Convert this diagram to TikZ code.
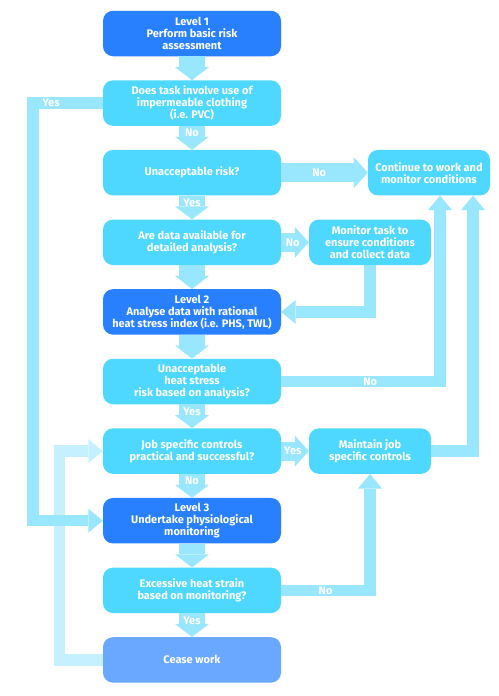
\documentclass[tikz,border=0pt]{standalone}
\usepackage{fontspec}
\setmainfont{Fira Sans}
\usetikzlibrary{arrows.meta,calc}
\definecolor{lvl}{RGB}{41,128,255}
\definecolor{qst}{RGB}{78,216,255}
\definecolor{arr}{RGB}{153,230,255}
\definecolor{ceasec}{RGB}{106,168,255}
\definecolor{loopc}{RGB}{196,240,255}
\begin{document}
\begin{tikzpicture}[x=1pt,y=-1pt,
 box/.style={rounded corners=10pt, minimum width=178pt, minimum height=45.5pt, inner sep=0pt, align=center, text=white, font=\bfseries\fontsize{11}{12}\selectfont},
 lvlbox/.style={box, fill=lvl},
 qbox/.style={box, fill=qst},
 sbox/.style={box, fill=qst, minimum width=122pt},
 cbox/.style={box, fill=ceasec},
 downarr/.style={draw=arr, line width=26pt, -{Triangle[width=34pt,length=13pt,line width=0pt]}},
 sidearr/.style={draw=arr, line width=19pt, -{Triangle[width=31pt,length=14pt,line width=0pt]}},
 thinarr/.style={draw=arr, line width=11.5pt, line join=miter, -{Triangle[width=24pt,length=14.5pt,line width=0pt]}},
 lbl/.style={text=white, font=\bfseries\fontsize{11}{12}\selectfont, inner sep=0pt},
]
\useasboundingbox (0,0) rectangle (498,696);
% main column
\node[lvlbox] (b1) at (192,33.5) {Level 1\\Perform basic risk\\assessment};
\node[qbox] (b2) at (192,103.1) {Does task involve use of\\impermeable clothing\\(i.e. PVC)};
\node[qbox] (b3) at (192,172.7) {Unacceptable risk?};
\node[qbox] (b4) at (192,242.3) {Are data available for\\detailed analysis?};
\node[lvlbox] (b5) at (192,311.9) {Level 2\\Analyse data with rational\\heat stress index (i.e. PHS, TWL)};
\node[qbox] (b6) at (192,381.5) {Unacceptable\\heat stress\\risk based on analysis?};
\node[qbox] (b7) at (192,451.1) {Job specific controls\\practical and successful?};
\node[lvlbox] (b8) at (192,520.7) {Level 3\\Undertake physiological\\monitoring};
\node[qbox] (b9) at (192,590.3) {Excessive heat strain\\based on monitoring?};
\node[cbox] (b10) at (192,659.9) {Cease work};
% side boxes
\node[sbox] (cont) at (429,172.7) {Continue to work and\\monitor conditions};
\node[sbox] (mon) at (370,242.3) {Monitor task to\\ensure conditions\\and collect data};
\node[sbox] (maint) at (370,451.1) {Maintain job\\specific controls};
% loop back (drawn first)
\draw[thinarr, draw=loopc] (b10.west) -- ++(-43.5,0) |- (b7.west);
% down arrows
\draw[downarr] (b1.south) -- (b2.north);
\draw[downarr] (b2.south) -- node[lbl, pos=0.3] (l1) {No} (b3.north);
\draw[downarr] (b3.south) -- node[lbl, pos=0.3] (l2) {Yes} (b4.north);
\draw[downarr] (b4.south) -- (b5.north);
\draw[downarr] (b5.south) -- (b6.north);
\draw[downarr] (b6.south) -- node[lbl, pos=0.3] (l3) {Yes} (b7.north);
\draw[downarr] (b7.south) -- node[lbl, pos=0.3] (l4) {No} (b8.north);
\draw[downarr] (b8.south) -- (b9.north);
\draw[downarr] (b9.south) -- node[lbl, pos=0.3] (l5) {Yes} (b10.north);
% side arrows
\draw[sidearr] (b3.east) -- node[lbl, pos=0.44] (l6) {No} (cont.west);
\draw[sidearr] (b4.east) -- node[lbl, pos=0.42] (l7) {No} (mon.west);
\draw[sidearr] (b7.east) -- node[lbl, pos=0.42] (l8) {Yes} (maint.west);
% thin connectors
\draw[thinarr] (b2.west) -- node[lbl, pos=0.74] (l9) {Yes} ++(-70,0) |- (b8.west);
\draw[thinarr] (mon.south) |- (b5.east);
\draw[thinarr] (b6.east) -| node[lbl, pos=0.28] (l10) {No} ($(cont.south)+(11,0)$);
\draw[thinarr] (maint.east) -| ($(cont.south)+(44,0)$);
\draw[thinarr] (b9.east) -| node[lbl, pos=0.25] (l11) {No} (maint.south);
\end{tikzpicture}
\end{document}
